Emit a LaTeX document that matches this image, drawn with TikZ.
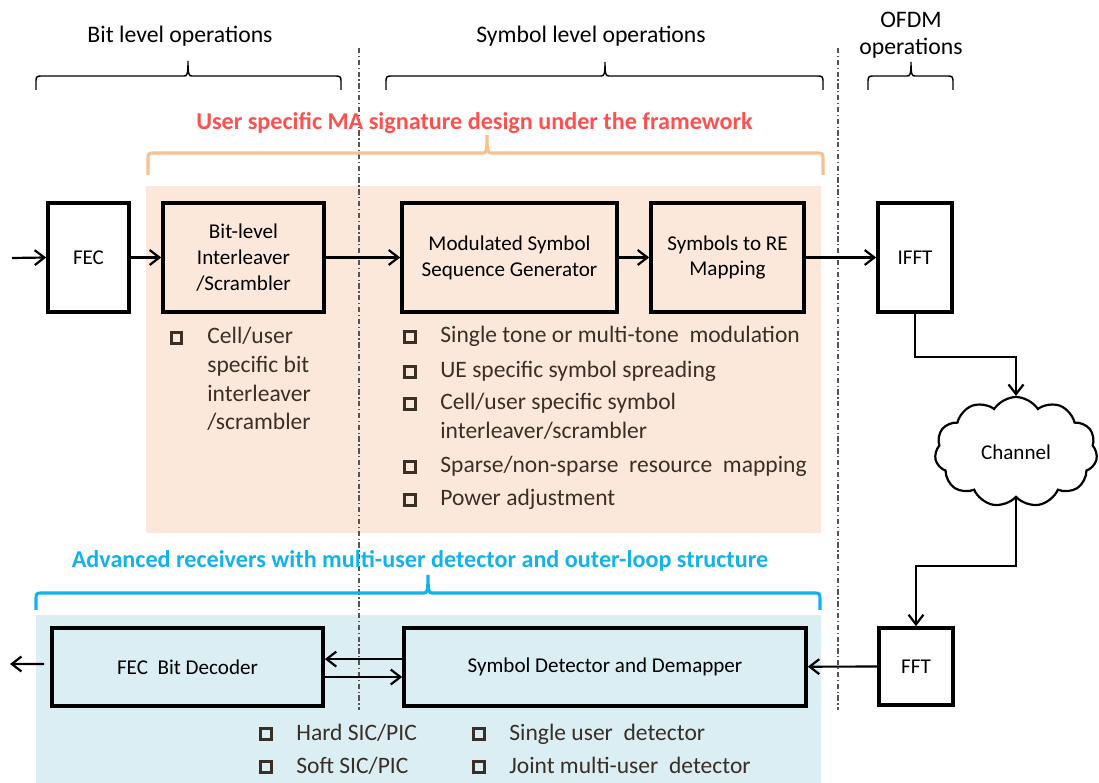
\documentclass[tikz,border=0pt]{standalone}
\usepackage{fontspec}
\setmainfont{Carlito}
\usetikzlibrary{arrows.meta,shapes.symbols,calc}
\definecolor{orfill}{HTML}{FCE8DA}
\definecolor{blfill}{HTML}{DAEEF3}
\definecolor{redtxt}{HTML}{FF5050}
\definecolor{orbrace}{HTML}{F9C18F}
\definecolor{bltxt}{HTML}{12B2EE}
\definecolor{bultxt}{HTML}{3A2F26}
\definecolor{dashcol}{HTML}{555555}
\newcommand\mybrace[7]{%
  \draw[#7] ({#1},{#5}) -- ({#1},{#4+5}) .. controls ({#1},{#4+1}) and ({#1+1},{#4}) .. ({#1+5},{#4})
    -- ({#2-4},{#4}) .. controls ({#2-1},{#4}) and ({#2},{#4-1}) .. ({#2},{#6})
    .. controls ({#2},{#4-1}) and ({#2+1},{#4}) .. ({#2+4},{#4})
    -- ({#3-5},{#4}) .. controls ({#3-1},{#4}) and ({#3},{#4+1}) .. ({#3},{#4+5}) -- ({#3},{#5});}
\begin{document}
\begin{tikzpicture}[x=0.02cm,y=-0.02cm,
  box/.style={draw=black, line width=2.1pt, align=center, inner sep=0pt,
    font=\fontsize{12}{14.7}\selectfont},
  arr/.style={line width=1.25pt, -{Straight Barb[length=5.5pt,width=8.5pt,line width=1.25pt]}},
  hdr/.style={font=\fontsize{13.5}{15}\selectfont, anchor=base},
  bul/.style={draw=bultxt, line width=1.5pt, minimum size=0.21cm, inner sep=0pt},
  btxt/.style={font=\fontsize{13.4}{16}\selectfont, text=bultxt, anchor=base west, inner sep=0pt},
  divider/.style={draw=dashcol, line width=0.7pt, dash pattern=on 3pt off 1.5pt on 0.7pt off 1.5pt},
  blackbrace/.style={draw=black, line width=0.8pt},
  orbr/.style={draw=orbrace, line width=1.8pt},
  blbr/.style={draw=bltxt, line width=1.8pt}]
\useasboundingbox (0,0) rectangle (1099,783);

% backgrounds
\fill[orfill] (146,186) rectangle (821,533);
\fill[blfill] (36,615) rectangle (821,783);

% dividers
\coordinate (d1t) at (359,48); \coordinate (d1b) at (359,710);
\coordinate (d2t) at (838,48); \coordinate (d2b) at (838,710);
\draw[divider] (d1t) -- (d1b);
\draw[divider] (d2t) -- (d2b);

% headers
\node[hdr] (bitops) at (180,43) {Bit level operations};
\node[hdr] (symops) at (591,43) {Symbol level operations};
\node[hdr] (ofdm1) at (911,28) {OFDM};
\node[hdr] (ofdm2) at (911,55) {operations};
\mybrace{36}{188}{341}{76}{90}{61}{blackbrace}
\mybrace{386}{605}{823}{76}{90}{62}{blackbrace}
\mybrace{868}{911}{953}{76}{90}{62}{blackbrace}

\node[font=\bfseries\fontsize{13.75}{15}\selectfont, text=redtxt, anchor=base] (ttlr) at (474.5,130) {User specific MA signature design under the framework};
\mybrace{148}{487}{823}{153}{175}{135}{orbr}

\node[font=\bfseries\fontsize{13.75}{15}\selectfont, text=bltxt, anchor=base] (ttlb) at (420,568) {Advanced receivers with multi-user detector and outer-loop structure};
\mybrace{36}{428}{820}{593}{610}{575}{blbr}

% transmitter chain
\node[box, minimum width=1.62cm, minimum height=2.18cm] (fec) at (88.5,257.5) {FEC};
\node[box, minimum width=3.22cm, minimum height=2.18cm, fill=orfill] (bil) at (243.5,257.5) {Bit-level\\Interleaver\\/Scrambler};
\node[box, minimum width=4.30cm, minimum height=2.18cm, fill=orfill] (mod) at (509.5,257.5) {Modulated Symbol\\Sequence Generator};
\node[box, minimum width=3.06cm, minimum height=2.18cm, fill=orfill] (map) at (727.5,257.5) {Symbols to RE\\Mapping};
\node[box, minimum width=1.48cm, minimum height=2.18cm, fill=white] (ifft) at (915,257.5) {IFFT};
\coordinate (in) at (12,258);
\draw[arr] (in) -- (fec.west);
\draw[arr] (fec) -- (bil);
\draw[arr] (bil) -- (mod);
\draw[arr] (mod) -- (map);
\draw[arr] (map) -- (ifft);

% channel
\node[cloud, draw, line width=1.25pt, cloud puffs=11, cloud puff arc=115, aspect=1.5,
  minimum width=3.25cm, minimum height=2.2cm, inner sep=0pt, font=\fontsize{12}{14}\selectfont] (chan) at (1016,452) {Channel};
\coordinate (c1) at (1016,357);
\coordinate (c2) at (916,566);
\draw[arr] (ifft.south) |- (c1) -- (chan.north);

% receiver chain
\node[box, minimum width=1.48cm, minimum height=1.54cm, fill=white] (fft) at (916,666.5) {FFT};
\node[box, minimum width=8.04cm, minimum height=1.56cm, fill=blfill] (det) at (605,667) {Symbol Detector and Demapper};
\node[box, minimum width=5.42cm, minimum height=1.56cm, fill=blfill] (dec) at (187.5,667) {FEC\ \ Bit Decoder};
\draw[arr] (chan.south) |- (c2) -- (fft.north);
\draw[arr] (fft) -- (det);
\draw[arr] ([yshift=4.5pt]det.west) -- ([yshift=4.5pt]dec.east);
\draw[arr] ([yshift=-5.7pt]dec.east) -- ([yshift=-5.7pt]det.west);
\coordinate (out) at (10,664);
\draw[arr] ([xshift=-3.4pt,yshift=1.7pt]dec.west) -- (out);

% bit-level bullets
\node[bul] (bb1) at (176.5,338) {};
\node[btxt] (bt1a) at (207,344) {Cell/user};
\node[btxt] (bt1b) at (207,373) {specific bit};
\node[btxt] (bt1c) at (207,402) {interleaver};
\node[btxt] (bt1d) at (207,430) {/scrambler};

% symbol-level bullets
\node[bul] (sb1) at (410,337) {};
\node[btxt] (st1) at (440,343) {Single tone or multi-tone\ \ modulation};
\node[bul] (sb2) at (410,372) {};
\node[btxt] (st2) at (440,378) {UE specific symbol spreading};
\node[bul] (sb3) at (410,404) {};
\node[btxt] (st3a) at (440,410) {Cell/user specific symbol};
\node[btxt] (st3b) at (440,439) {interleaver/scrambler};
\node[bul] (sb4) at (410,467) {};
\node[btxt] (st4) at (440,473) {Sparse/non-sparse\ \ resource\ \ mapping};
\node[bul] (sb5) at (410,500) {};
\node[btxt] (st5) at (440,506) {Power adjustment};

% receiver bullets
\node[bul] (rb1) at (266,734) {};
\node[btxt] (rt1) at (296,740) {Hard SIC/PIC};
\node[bul] (rb2) at (266,767) {};
\node[btxt] (rt2) at (296,773) {Soft SIC/PIC};
\node[bul] (rb3) at (479,734) {};
\node[btxt] (rt3) at (509,740) {Single user\ \ detector};
\node[bul] (rb4) at (479,767) {};
\node[btxt] (rt4) at (509,773) {Joint multi-user\ \ detector};
\end{tikzpicture}
\end{document}
